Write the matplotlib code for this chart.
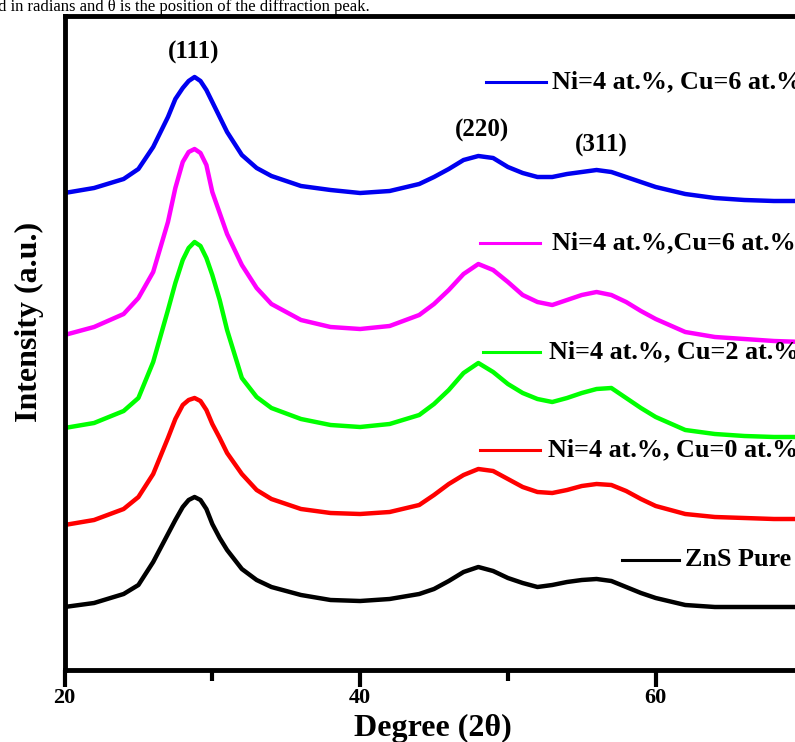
import matplotlib
matplotlib.use("Agg")
import matplotlib.pyplot as plt
from matplotlib.ticker import MultipleLocator

# 2-theta grid (degrees) and intensities (a.u.)
two_theta = [20, 22, 24, 25, 26, 27, 27.5, 28, 28.4, 28.8, 29.2, 29.6, 30, 30.5,
             31, 32, 33, 34, 36, 38, 40, 42, 44, 45, 46, 47, 48, 49, 50, 51,
             52, 53, 54, 55, 56, 57, 58, 59, 60, 62, 64, 66, 68, 70]

ni4_cu6_a = [475, 480, 489, 499, 521, 551, 569, 580, 587, 591, 587, 578, 566, 551,
             536, 513, 500, 492, 482, 478, 475, 477, 484, 491, 499, 508, 512, 510,
             501, 495, 491, 491, 494, 496, 498, 496, 491, 486, 481, 474, 470, 468,
             467, 467]
ni4_cu6_b = [333, 341, 354, 370, 396, 446, 480, 506, 516, 519, 515, 503, 476, 455,
             434, 403, 380, 364, 348, 341, 339, 342, 353, 364, 378, 394, 404, 398,
             386, 373, 366, 363, 368, 373, 376, 373, 366, 357, 349, 336, 331, 329,
             327, 326]
ni4_cu2 = [240, 245, 257, 270, 306, 358, 385, 408, 420, 426, 422, 410, 393, 368,
           338, 290, 271, 260, 249, 243, 241, 244, 253, 264, 278, 295, 305, 296,
           284, 275, 269, 266, 270, 275, 279, 280, 270, 260, 251, 238, 234, 232,
           231, 231]
ni4_cu0 = [143, 148, 159, 171, 194, 230, 249, 263, 268, 270, 267, 258, 244, 230,
           215, 194, 178, 169, 159, 155, 154, 156, 163, 173, 184, 193, 199, 197,
           189, 181, 176, 175, 178, 182, 184, 183, 177, 169, 162, 154, 151, 150,
           149, 149]
zns_pure = [61, 65, 74, 83, 106, 134, 148, 161, 168, 171, 168, 159, 144, 130,
            118, 99, 88, 81, 73, 68, 67, 69, 74, 79, 87, 96, 101, 97, 90, 85, 81,
            83, 86, 88, 89, 87, 81, 75, 70, 63, 61, 61, 61, 61]

series_labels = ["Ni=4 at.%, Cu=6 at.%", "Ni=4 at.%,Cu=6 at.%",
                 "Ni=4 at.%, Cu=2 at.%", "Ni=4 at.%, Cu=0 at.%", "ZnS Pure"]
series_colors = ["#0000f0", "#ff00ff", "#00ff00", "#ff0000", "#000000"]
series_data = [ni4_cu6_a, ni4_cu6_b, ni4_cu2, ni4_cu0, zns_pure]

peak_labels = ["(111)", "(220)", "(311)"]
peak_pos = [28.73, 48.28, 56.33]

# legend-style key placement: (line x0, line x1, text x, y) in data coords
key_pos = [(48.55, 52.6, 53.0, 586),
           (48.1, 52.14, 53.0, 425),
           (48.3, 52.14, 52.8, 316),
           (48.1, 52.14, 52.7, 218),
           (57.75, 61.6, 61.95, 108)]
peak_text_y = [616, 538, 523]

SERIF = "Liberation Serif"

fig = plt.figure(figsize=(7.95, 7.42), dpi=100)
ax = fig.add_axes([64.5 / 795, 72.5 / 742, 739 / 795, 654 / 742])

for ys, col in zip(series_data, series_colors):
    ax.plot(two_theta, ys, color=col, linewidth=3.2, solid_joinstyle="round")

for (x0, x1, xt, y), lab, col in zip(key_pos, series_labels, series_colors):
    ax.plot([x0, x1], [y, y], color=col, linewidth=2.2)
    ax.text(xt, y, lab, fontsize=18.8, fontweight="bold", family=SERIF,
            va="center", ha="left", clip_on=False)

for lab, x, y in zip(peak_labels, peak_pos, peak_text_y):
    ax.text(x, y, lab, fontsize=18, fontweight="bold", family=SERIF,
            ha="center", va="center")

ax.set_xlim(20, 70)
ax.set_ylim(-1.5, 652.5)
ax.set_yticks([])
ax.xaxis.set_major_locator(MultipleLocator(20))
ax.xaxis.set_minor_locator(MultipleLocator(10))
ax.tick_params(axis="x", which="major", direction="out", length=12, width=3, pad=1)
ax.tick_params(axis="x", which="minor", direction="out", length=8, width=3)
for lbl in ax.get_xticklabels():
    lbl.set_fontfamily(SERIF)
    lbl.set_fontweight("bold")
    lbl.set_fontsize(16)
for sp in ax.spines.values():
    sp.set_linewidth(3.5)

fig.text(433 / 795, 1 - 728 / 742, "Degree (2\u03b8)", fontsize=23,
         fontweight="bold", family=SERIF, ha="center", va="center")
fig.text(29 / 795, 1 - 322 / 742, "Intensity (a.u.)", fontsize=23,
         fontweight="bold", family=SERIF, ha="center", va="center", rotation=90)
fig.text(-2 / 795, 1 - 11 / 742,
         "d in radians and \u03b8 is the position of the diffraction peak.",
         fontsize=12, family=SERIF, ha="left", va="baseline")

fig.savefig("out.png", dpi=100)
